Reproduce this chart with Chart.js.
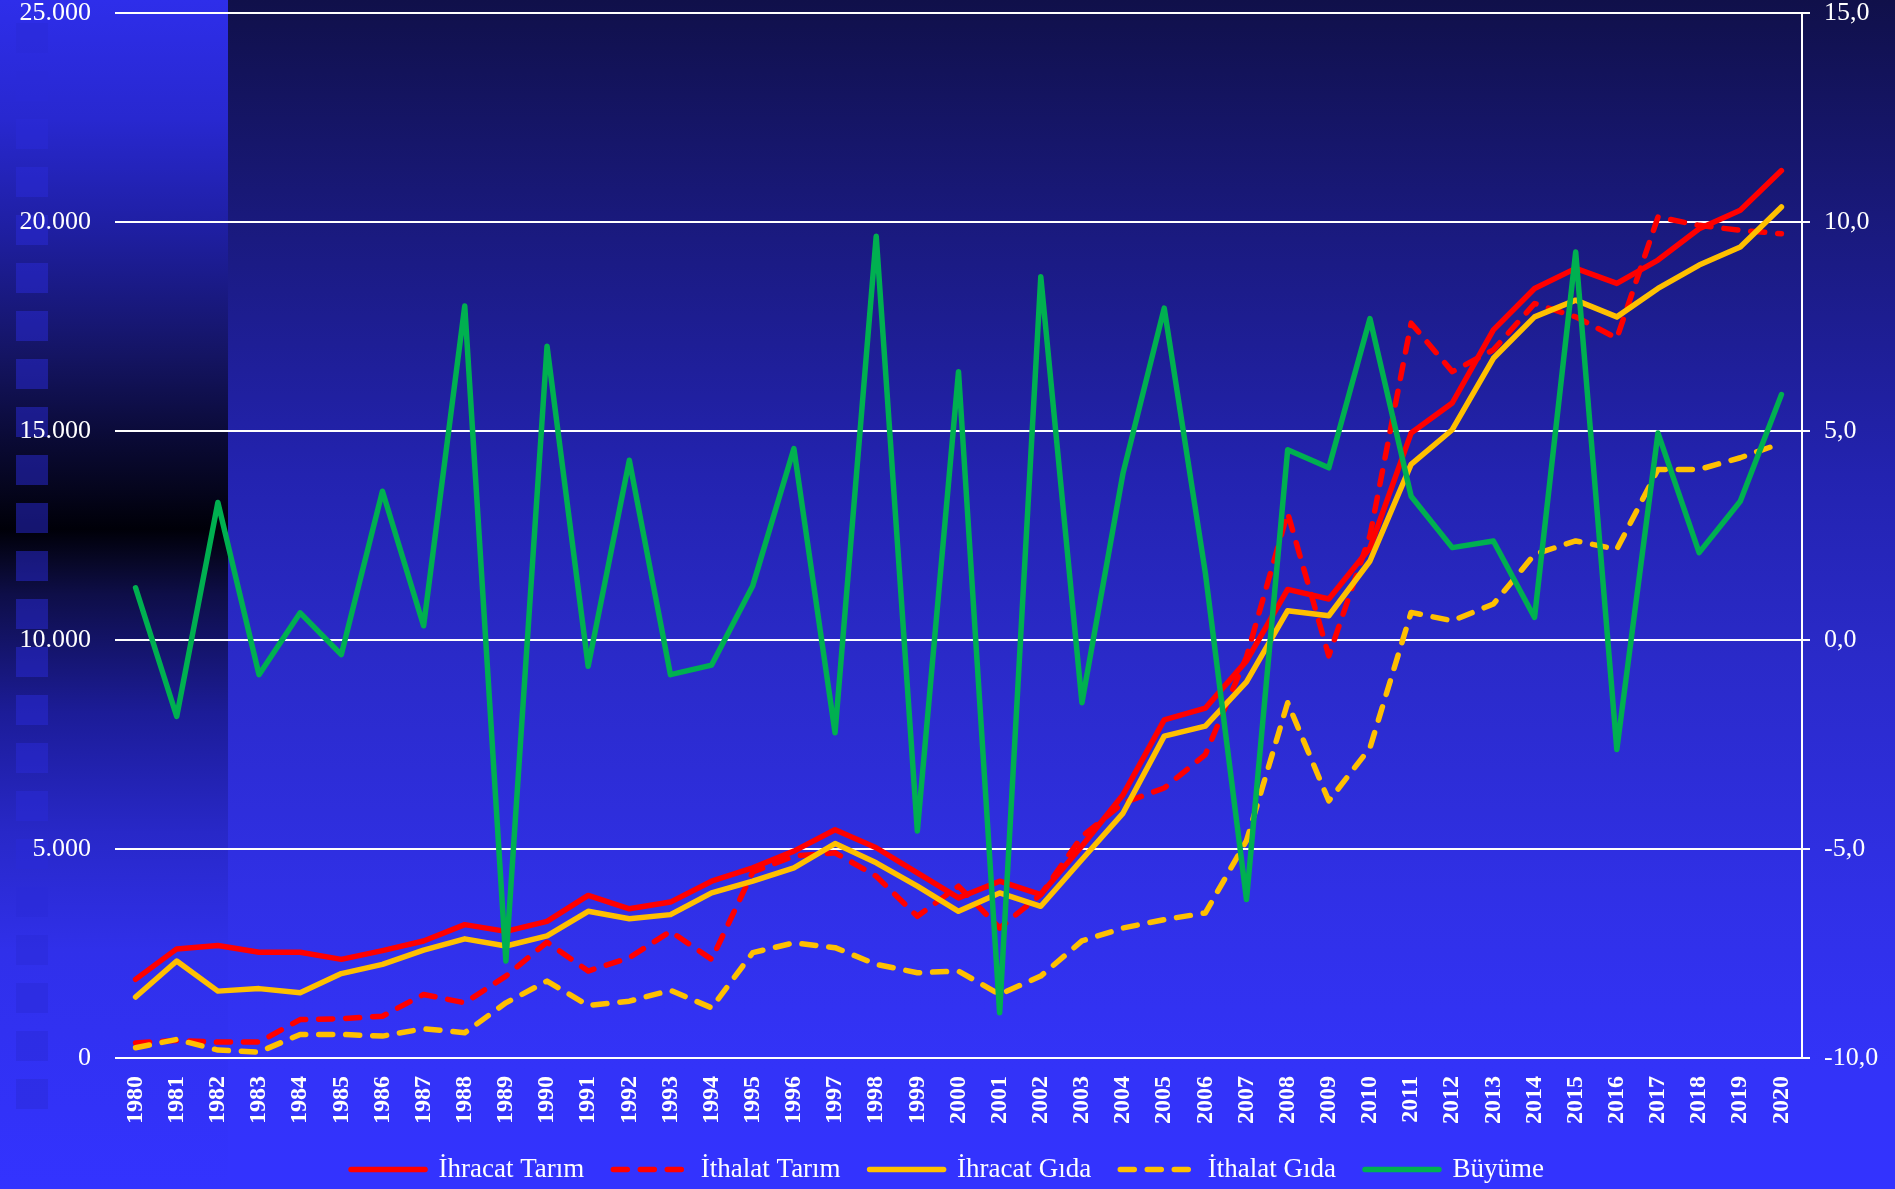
<!DOCTYPE html>
<html>
<head>
<meta charset="utf-8">
<script src="https://cdn.jsdelivr.net/npm/chart.js@4.4.1/dist/chart.umd.min.js"></script>
<style>
  html, body { margin: 0; padding: 0; background: #3333ff; }
  #wrap { width: 1895px; height: 1189px; }
</style>
</head>
<body>
<div id="wrap"><canvas id="c" width="1895" height="1189"></canvas></div>
<script>
const years = ['1980','1981','1982','1983','1984','1985','1986','1987','1988','1989',
  '1990','1991','1992','1993','1994','1995','1996','1997','1998','1999',
  '2000','2001','2002','2003','2004','2005','2006','2007','2008','2009',
  '2010','2011','2012','2013','2014','2015','2016','2017','2018','2019','2020'];

const ihracatTarim = [1880,2610,2690,2530,2530,2360,2570,2800,3190,3030,
  3270,3890,3570,3730,4230,4550,4950,5460,5030,4430,
  3830,4230,3910,5070,6300,8090,8370,9500,11210,10980,
  12200,14950,15670,17420,18410,18890,18530,19090,19840,20280,21230];

const ithalatTarim = [360,420,380,380,920,940,1000,1520,1320,1960,
  2770,2080,2400,3030,2360,4450,4830,4910,4350,3390,
  4110,3110,3910,5300,6100,6460,7260,9600,13040,9620,
  12500,17580,16420,16940,18050,17730,17220,20120,19920,19800,19720];

const ihracatGida = [1460,2320,1600,1660,1560,2020,2240,2580,2850,2680,
  2920,3510,3330,3430,3950,4230,4550,5130,4670,4110,
  3510,3950,3630,4750,5860,7700,7940,9000,10700,10580,
  11890,14200,15030,16740,17730,18130,17730,18410,18970,19400,20360];

const ithalatGida = [245,444,190,142,564,564,524,700,604,1320,
  1840,1257,1360,1620,1200,2520,2755,2640,2240,2040,
  2080,1520,1960,2800,3110,3310,3470,5200,8500,6150,
  7420,10660,10460,10860,12050,12370,12170,14080,14080,14360,14710];

const buyume = [1.25,-1.83,3.29,-0.83,0.65,-0.35,3.56,0.34,7.99,-7.68,
  7.03,-0.63,4.30,-0.83,-0.6,1.30,4.58,-2.22,9.66,-4.57,
  6.42,-8.92,8.69,-1.50,4.00,7.94,1.6,-6.21,4.55,4.12,
  7.69,3.44,2.21,2.37,0.54,9.28,-2.62,4.95,2.09,3.32,5.87];

const seriesNames = ['İhracat Tarım','İthalat Tarım','İhracat Gıda','İthalat Gıda','Büyüme'];

const leftTicks = {min: 0, max: 25000, step: 5000};
const rightTicks = {min: -10, max: 15, step: 5};

const FONT = "'Liberation Serif', 'Times New Roman', serif";
const LW = 5.5;
const DASH = [14, 13];

const bgPlugin = {
  id: 'bg',
  beforeDraw(chart) {
    const ctx = chart.ctx;
    const W = chart.width, H = chart.height;
    ctx.save();
    let g = ctx.createLinearGradient(0, 0, 0, H);
    g.addColorStop(0, '#10104a');
    g.addColorStop(0.2, '#1a1a80');
    g.addColorStop(0.4, '#2323b0');
    g.addColorStop(0.55, '#2a2ac8');
    g.addColorStop(0.75, '#3030e6');
    g.addColorStop(0.9, '#3333f8');
    g.addColorStop(1, '#3333ff');
    ctx.fillStyle = g;
    ctx.fillRect(0, 0, W, H);
    let s = ctx.createLinearGradient(0, 0, 0, H);
    s.addColorStop(0, '#2e2eea');
    s.addColorStop(0.1, '#2828d0');
    s.addColorStop(0.2, '#1e1e9e');
    s.addColorStop(0.3, '#141462');
    s.addColorStop(0.37, '#0a0a35');
    s.addColorStop(0.41, '#05051e');
    s.addColorStop(0.445, '#000008');
    s.addColorStop(0.475, '#08082a');
    s.addColorStop(0.5, '#0e0e48');
    s.addColorStop(0.6, '#1c1c98');
    s.addColorStop(0.7, '#2828c8');
    s.addColorStop(0.8, '#3030ea');
    s.addColorStop(1, '#3333ff');
    ctx.fillStyle = s;
    ctx.fillRect(0, 0, 228, H);
    ctx.fillStyle = 'rgba(42,42,215,0.5)';
    for (let y = 23; y < 1110; y += 48) {
      ctx.fillRect(16, y, 32, 30);
    }
    ctx.restore();
  }
};

function fmtLeft(v) {
  return String(v).replace(/\B(?=(\d{3})+(?!\d))/g, '.');
}
function fmtRight(v) {
  return Number(v).toFixed(1).replace('.', ',');
}

const data = {
  labels: years,
  datasets: [
    {label: seriesNames[0], data: ihracatTarim, yAxisID: 'y', borderColor: '#ff0000', backgroundColor: '#ff0000', borderWidth: LW, order: 5},
    {label: seriesNames[1], data: ithalatTarim, yAxisID: 'y', borderColor: '#ff0000', backgroundColor: '#ff0000', borderWidth: LW, borderDash: DASH, order: 4},
    {label: seriesNames[2], data: ihracatGida, yAxisID: 'y', borderColor: '#ffc000', backgroundColor: '#ffc000', borderWidth: LW, order: 3},
    {label: seriesNames[3], data: ithalatGida, yAxisID: 'y', borderColor: '#ffc000', backgroundColor: '#ffc000', borderWidth: LW, borderDash: DASH, order: 2},
    {label: seriesNames[4], data: buyume, yAxisID: 'y1', borderColor: '#00b050', backgroundColor: '#00b050', borderWidth: LW, order: 1}
  ].map(d => Object.assign({pointRadius: 0, pointHoverRadius: 0, tension: 0, fill: false, borderCapStyle: 'round', borderJoinStyle: 'round'}, d))
};

function noVertPad(scale) {
  scale.paddingTop = 0;
  scale.paddingBottom = 0;
}

new Chart(document.getElementById('c'), {
  type: 'line',
  data: data,
  plugins: [bgPlugin],
  options: {
    responsive: false,
    animation: false,
    events: [],
    layout: {padding: {top: 13, left: 0, right: 0, bottom: -4}},
    plugins: {
      tooltip: {enabled: false},
      legend: {
        position: 'bottom',
        labels: {
          color: '#ffffff',
          font: {family: FONT, size: 27, lineHeight: 1},
          usePointStyle: true,
          pointStyle: 'line',
          pointStyleWidth: 74,
          padding: 29,
          sort: (a, b) => a.datasetIndex - b.datasetIndex,
          generateLabels(chart) {
            const items = Chart.defaults.plugins.legend.labels.generateLabels(chart);
            items.forEach(it => {
              const ds = chart.data.datasets[it.datasetIndex];
              it.lineDash = ds.borderDash || [];
              it.lineCap = 'round';
              it.lineWidth = ds.borderWidth;
              it.strokeStyle = ds.borderColor;
              it.fillStyle = ds.borderColor;
              it.pointStyle = 'line';
            });
            return items;
          }
        }
      }
    },
    scales: {
      x: {
        offset: true,
        grid: {display: false, drawTicks: false},
        border: {display: false},
        ticks: {
          color: '#ffffff',
          font: {family: FONT, size: 24, weight: 'bold', lineHeight: 1},
          minRotation: 90, maxRotation: 90,
          autoSkip: false,
          padding: 18
        },
        afterFit(scale) { scale.height = 69; }
      },
      y: {
        position: 'left',
        min: leftTicks.min, max: leftTicks.max,
        ticks: {
          stepSize: leftTicks.step,
          color: '#ffffff',
          font: {family: FONT, size: 26, lineHeight: 1},
          padding: 24,
          callback: v => fmtLeft(v)
        },
        grid: {color: '#ffffff', lineWidth: 2, drawTicks: false},
        border: {display: false},
        afterFit(scale) { scale.width = 115; noVertPad(scale); }
      },
      y1: {
        position: 'right',
        min: rightTicks.min, max: rightTicks.max,
        ticks: {
          stepSize: rightTicks.step,
          color: '#ffffff',
          font: {family: FONT, size: 26, lineHeight: 1},
          padding: 14,
          callback: v => fmtRight(v)
        },
        grid: {drawOnChartArea: false, color: '#ffffff', lineWidth: 2, drawTicks: true, tickLength: 8},
        border: {display: true, color: '#ffffff', width: 2},
        afterFit(scale) { scale.width = 93; noVertPad(scale); }
      }
    }
  }
});
</script>
</body>
</html>
